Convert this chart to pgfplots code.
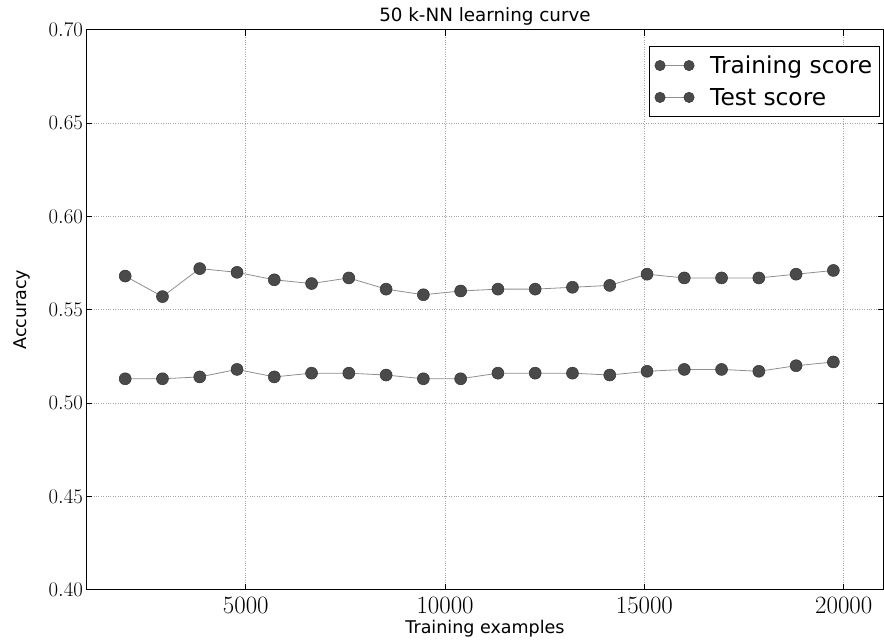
\documentclass[border=0pt]{standalone}
\usepackage{fontspec}
\setmainfont{DejaVu Sans}
\usepackage{pgfplots}
\pgfplotsset{compat=1.18}
\usepackage{pgfplotstable}
\definecolor{markgray}{HTML}{4A4A4A}
\definecolor{markedge}{HTML}{333333}
\definecolor{linegray}{HTML}{8E8E8E}
\definecolor{gridgray}{HTML}{A5A5A5}

% learning-curve scores per training-set size
\pgfplotstableread{
n      train  test
1975   0.568  0.513
2910   0.557  0.513
3845   0.572  0.514
4780   0.570  0.518
5715   0.566  0.514
6650   0.564  0.516
7585   0.567  0.516
8520   0.561  0.515
9455   0.558  0.513
10390  0.560  0.513
11325  0.561  0.516
12260  0.561  0.516
13195  0.562  0.516
14130  0.563  0.515
15065  0.569  0.517
16000  0.567  0.518
16935  0.567  0.518
17870  0.567  0.517
18805  0.569  0.520
19740  0.571  0.522
}\curve

\begin{document}
\begin{tikzpicture}
\begin{axis}[
  scale only axis,
  width=797pt, height=560pt,
  xmin=1000, xmax=21000,
  ymin=0.40, ymax=0.70,
  xtick={5000,10000,15000,20000},
  ytick={0.40,0.45,0.50,0.55,0.60,0.65,0.70},
  scaled x ticks=false,
  scaled y ticks=false,
  xticklabel style={/pgf/number format/fixed, /pgf/number format/1000 sep={}, /tikz/yshift=-4pt,
    /tikz/font=\fontsize{23}{26}\selectfont},
  yticklabel style={/pgf/number format/fixed, /pgf/number format/fixed zerofill, /pgf/number format/precision=2,
    /tikz/font=\fontsize{21.5}{24}\selectfont},
  label style={font=\fontsize{17.5}{20}\selectfont},
  xlabel={Training examples},
  ylabel={Accuracy},
  ylabel shift=12pt,
  title={50 k-NN learning curve},
  title style={font=\fontsize{18.3}{21}\selectfont, yshift=-5pt},
  axis line style={black, line width=0.8pt},
  tick style={black, line width=0.6pt},
  major tick length=6pt,
  grid=major,
  major grid style={gridgray, dotted, line width=0.7pt},
  legend cell align=left,
  legend style={
    at={(1,1)}, anchor=north east, xshift=-4pt, yshift=-16pt,
    draw=black, line width=0.7pt,
    font=\fontsize{23.3}{26}\selectfont,
    inner xsep=5pt, inner ysep=8pt,
    row sep=9pt,
    /tikz/every odd column/.append style={column sep=14pt},
  },
  legend image code/.code={
    \draw[mark repeat=2, mark phase=1, #1, mark size=5.2pt]
      plot coordinates {(0pt,0pt) (14.5pt,0pt) (29pt,0pt)};
  },
]
\addplot[linegray, line width=0.8pt, mark=*, mark size=6pt,
  mark options={fill=markgray, draw=markedge, line width=0.5pt, solid}]
  table[x=n, y=train] {\curve};
\addlegendentry{Training score}
\addplot[linegray, line width=0.8pt, mark=*, mark size=6pt,
  mark options={fill=markgray, draw=markedge, line width=0.5pt, solid}]
  table[x=n, y=test] {\curve};
\addlegendentry{Test score}
\end{axis}
% margin around the labels
\path (current axis.outer west) ++(-10pt,0pt);
\path (current axis.outer north) ++(0pt,4pt);
\end{tikzpicture}
\end{document}
